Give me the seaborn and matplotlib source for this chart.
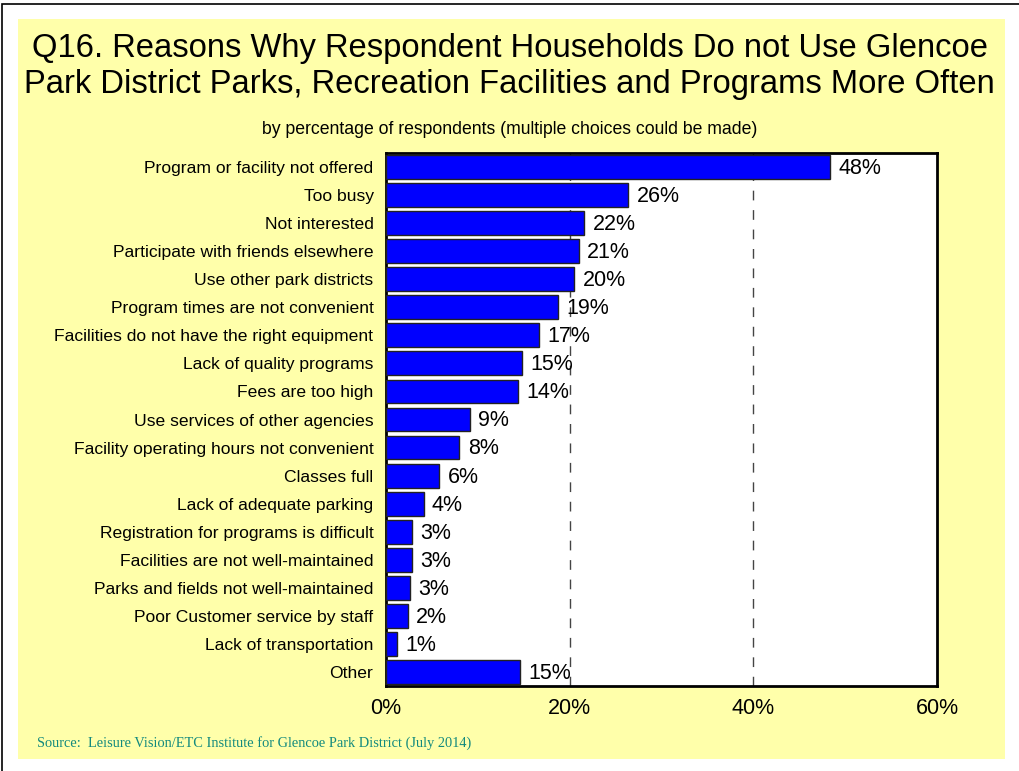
import matplotlib
matplotlib.use("Agg")
import matplotlib.pyplot as plt
import pandas as pd
import seaborn as sns
from matplotlib.patches import Rectangle

# data
reasons = [
    "Program or facility not offered",
    "Too busy",
    "Not interested",
    "Participate with friends elsewhere",
    "Use other park districts",
    "Program times are not convenient",
    "Facilities do not have the right equipment",
    "Lack of quality programs",
    "Fees are too high",
    "Use services of other agencies",
    "Facility operating hours not convenient",
    "Classes full",
    "Lack of adequate parking",
    "Registration for programs is difficult",
    "Facilities are not well-maintained",
    "Parks and fields not well-maintained",
    "Poor Customer service by staff",
    "Lack of transportation",
    "Other",
]
pct = [48.4, 26.4, 21.6, 21.0, 20.5, 18.7, 16.7, 14.8, 14.4, 9.1, 8.0, 5.8, 4.1, 2.8, 2.8, 2.6, 2.4, 1.2, 14.6]
pct_labels = ["48%", "26%", "22%", "21%", "20%", "19%", "17%", "15%", "14%", "9%", "8%", "6%",
              "4%", "3%", "3%", "3%", "2%", "1%", "15%"]
x_ticks = [0, 20, 40, 60]

df = pd.DataFrame({"Reason": reasons, "Percent": pct})

sns.set_style("white")
plt.rcParams["font.family"] = ["Liberation Sans", "DejaVu Sans"]
plt.rcParams["text.color"] = "black"
plt.rcParams["xtick.color"] = "black"
plt.rcParams["ytick.color"] = "black"
plt.rcParams["axes.labelcolor"] = "black"

fig = plt.figure(figsize=(10.19, 7.71), dpi=100, facecolor="white")

# outer frame and yellow panel
fig.patches.append(Rectangle((2 / 1019, -0.01), 1.1, 1 - 4 / 771 + 0.01, transform=fig.transFigure,
                             fill=False, edgecolor="black", linewidth=1.2, zorder=-2))
fig.patches.append(Rectangle((18 / 1019, 1 - 759 / 771), (1005 - 18) / 1019, (759 - 19) / 771,
                             transform=fig.transFigure, facecolor="#FFFFAA", edgecolor="none", zorder=-1))

ax = fig.add_axes([386 / 1019, 1 - 686 / 771, (937 - 386) / 1019, (686 - 153) / 771])
ax.set_facecolor("white")

sns.barplot(data=df, x="Percent", y="Reason", orient="h", color="#0000FF", saturation=1,
            edgecolor="#222222", linewidth=1.0, width=0.85, ax=ax, zorder=3)

for g in [20, 40]:
    ax.axvline(g, color="#444444", linestyle=(0, (7, 7)), linewidth=1.0, zorder=1)

for i, (v, lab) in enumerate(zip(pct, pct_labels)):
    ax.text(v + 0.9, i + 0.05, lab, va="center", ha="left", fontsize=15.5, color="black", zorder=4)

ax.set_xlim(0, 60)
ax.set_ylim(len(reasons) - 0.5, -0.5)
ax.set_xticks(x_ticks)
ax.set_xticklabels([f"{t}%" for t in x_ticks], fontsize=15.5)
ax.tick_params(axis="y", labelsize=12.6, length=0, pad=9, labelcolor="black")
ax.tick_params(axis="x", length=0, pad=9, labelcolor="black")
ax.set_xlabel("")
ax.set_ylabel("")
for s in ax.spines.values():
    s.set_visible(True)
    s.set_color("black")
    s.set_linewidth(2)

fig.text(0.5, 1 - 48 / 771, "Q16. Reasons Why Respondent Households Do not Use Glencoe",
         ha="center", va="center", fontsize=23.6, color="black")
fig.text(0.5, 1 - 85 / 771, "Park District Parks, Recreation Facilities and Programs More Often",
         ha="center", va="center", fontsize=23.6, color="black")
fig.text(0.5, 1 - 130 / 771, "by percentage of respondents (multiple choices could be made)",
         ha="center", va="center", fontsize=12.7, color="black")
fig.text(37 / 1019, 1 - 743 / 771,
         "Source:  Leisure Vision/ETC Institute for Glencoe Park District (July 2014)",
         ha="left", va="center", fontsize=10.4, color="#138A7E", family="Liberation Serif")

fig.savefig("out.png", dpi=100, facecolor="white")
